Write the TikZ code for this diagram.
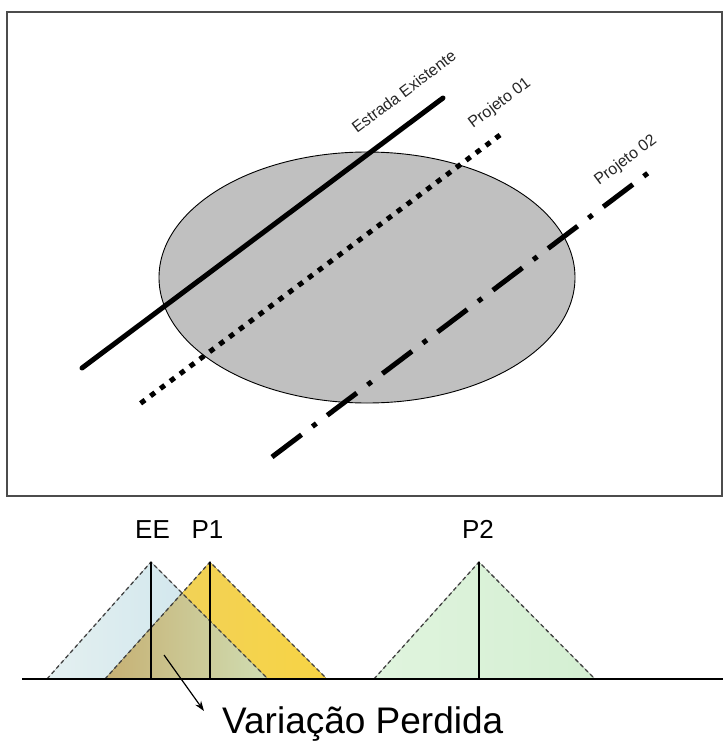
\documentclass[tikz,border=0pt]{standalone}
\usepackage{fontspec}
\setmainfont{Liberation Sans}
\usetikzlibrary{arrows.meta}
\definecolor{ellgray}{HTML}{C0C0C0}
\definecolor{eeL}{HTML}{E4F0F0}
\definecolor{eeR}{HTML}{C8E2EC}
\definecolor{pyel}{HTML}{F7D444}
\definecolor{pyelL}{HTML}{EFD060}
\definecolor{ovL}{HTML}{C6B073}
\definecolor{ovM}{HTML}{D9C09A}
\definecolor{ovR}{HTML}{D0DDB2}
\definecolor{p2L}{HTML}{E0F4DE}
\definecolor{p2R}{HTML}{D4EFD2}
\begin{document}
\begin{tikzpicture}[x=1pt,y=-1pt,
  road/.style={line width=5pt},
  tri/.style={draw=black!75, dash pattern=on 4pt off 3pt, line width=1.3pt},
  lbl/.style={font=\fontsize{16}{16}\selectfont, inner sep=0pt, anchor=base west, rotate=37, text=black!85},
  big/.style={font=\fontsize{26}{26}\selectfont, inner sep=0pt, anchor=base},
  axisline/.style={line width=1.2pt}]
\useasboundingbox (0,0) rectangle (723,744);
\fill[white] (0,0) rectangle (723,744);
% frame
\draw[line width=2pt, draw=black!70] (7,12) rectangle (722,496);
% region
\draw[fill=ellgray, draw=black, line width=0.9pt] (367,277.5) ellipse [x radius=208, y radius=125.5];
% roads
\draw[road, line cap=round] (82,368) -- (443,98);
\draw[road, dash pattern=on 5.5pt off 6.81pt] (140.6,403.3) -- (500,135);
\draw[road, dash pattern=on 37pt off 13.6pt on 5pt off 13.6pt] (272,457) -- (648,173);
% labels
\node[lbl] (lee) at (357,134) {Estrada Existente};
\node[lbl] (lp1) at (473,129) {Projeto 01};
\node[lbl] (lp2) at (599,186) {Projeto 02};
% bottom triangles
\fill[left color=eeL, right color=eeR] (47,679) -- (151,562) -- (268,679) -- cycle;
\fill[left color=pyelL, right color=pyel] (105,679) -- (210,562) -- (327,679) -- cycle;
\fill[left color=ovL, middle color=ovM, right color=ovR] (105,679) -- (182.1,593.1) -- (268,679) -- cycle;
\fill[left color=p2L, right color=p2R] (374,679) -- (479,562) -- (595,679) -- cycle;
\draw[tri] (47,679) -- (151,562) -- (268,679);
\draw[tri] (105,679) -- (210,562) -- (327,679);
\draw[tri] (374,679) -- (479,562) -- (595,679);
\draw[axisline] (151,679) -- (151,562);
\draw[axisline] (210,679) -- (210,562);
\draw[axisline] (479,679) -- (479,562);
\draw[axisline] (22,679) -- (723,679);
% labels
\node[big] (ee) at (152.5,538) {EE};
\node[big] (p1) at (207.5,538) {P1};
\node[big] (p2) at (478,538) {P2};
\node[font=\fontsize{37}{37}\selectfont, inner sep=0pt, anchor=base west] (vp) at (222,733) {Variação Perdida};
\coordinate (vps) at (164,655);
\coordinate (vpe) at (204,711);
\draw[line width=1.2pt, -{Stealth[length=10pt,width=7pt]}] (vps) -- (vpe);
\end{tikzpicture}
\end{document}
